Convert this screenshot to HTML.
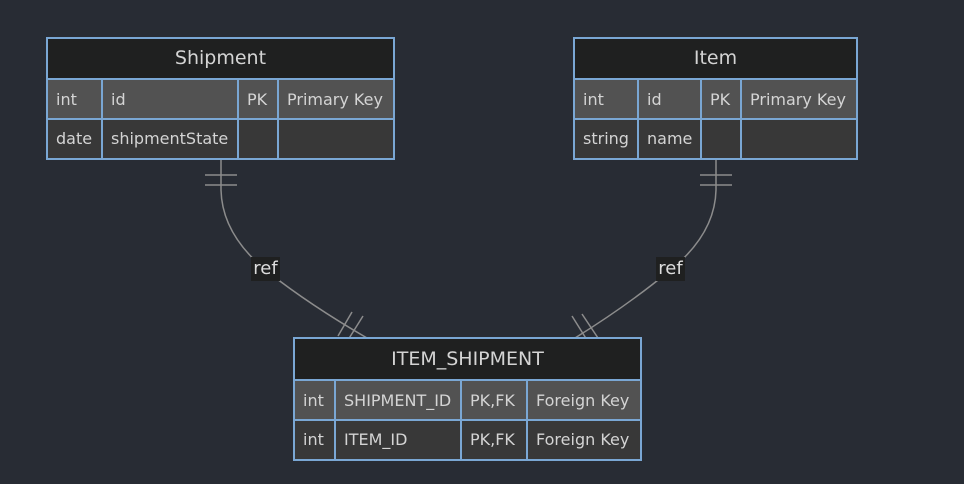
<!DOCTYPE html>
<html><head><style>
html,body{margin:0;padding:0;background:#282c34;}
svg{display:block;font-family:"DejaVu Sans","Liberation Sans",sans-serif;}
</style></head><body>
<svg width="964" height="484" viewBox="0 0 964 484">
<rect width="964" height="484" fill="#282c34"/>
<g fill="none" stroke="#8c8c8c" stroke-width="1.5">
<path d="M221,159 L221,190 Q222,235 268,272 Q310,305 367,338"/>
<path d="M205,175 H237 M205,185 H237"/>
<path d="M338,336 L352,312 M348,340 L363,316"/>
<path d="M716,159 L716,190 Q715,235 668,272 Q628,305 575,338"/>
<path d="M700,175 H732 M700,185 H732"/>
<path d="M598,338 L582,314 M587,340 L572,316"/>
</g>
<rect x="251" y="257" width="29" height="24" fill="#1f2020"/>
<text x="265.5" y="274" font-size="18" fill="#ddd" text-anchor="middle">ref</text>
<rect x="656" y="257" width="29" height="24" fill="#1f2020"/>
<text x="670.5" y="274" font-size="18" fill="#ddd" text-anchor="middle">ref</text>

<g stroke="#7aa7d4" stroke-width="2" font-size="16">
<!-- Shipment -->
<rect x="47" y="38" width="347" height="41" fill="#1f2020"/>
<rect x="47" y="79" width="347" height="40" fill="#525252"/>
<rect x="47" y="119" width="347" height="40" fill="#383838"/>
<path d="M102,79V159 M238,79V159 M278,79V159"/>
<!-- Item -->
<rect x="574" y="38" width="283" height="41" fill="#1f2020"/>
<rect x="574" y="79" width="283" height="40" fill="#525252"/>
<rect x="574" y="119" width="283" height="40" fill="#383838"/>
<path d="M638,79V159 M701,79V159 M741,79V159"/>
<!-- ITEM_SHIPMENT -->
<rect x="294" y="338" width="347" height="42" fill="#1f2020"/>
<rect x="294" y="380" width="347" height="40" fill="#525252"/>
<rect x="294" y="420" width="347" height="40" fill="#383838"/>
<path d="M335,380V460 M461,380V460 M527,380V460"/>
</g>
<g fill="#d4d4d4" font-size="16">
<text x="220.5" y="64" font-size="19" text-anchor="middle">Shipment</text>
<text x="56" y="105">int</text><text x="111" y="105">id</text><text x="247" y="105">PK</text><text x="287" y="105">Primary Key</text>
<text x="56" y="144">date</text><text x="111" y="144">shipmentState</text>
<text x="715.5" y="64" font-size="19" text-anchor="middle">Item</text>
<text x="583" y="105">int</text><text x="647" y="105">id</text><text x="710" y="105">PK</text><text x="750" y="105">Primary Key</text>
<text x="583" y="144">string</text><text x="647" y="144">name</text>
<text x="467.5" y="365" font-size="19" text-anchor="middle">ITEM_SHIPMENT</text>
<text x="303" y="406">int</text><text x="344" y="406">SHIPMENT_ID</text><text x="470" y="406">PK,FK</text><text x="536" y="406">Foreign Key</text>
<text x="303" y="445">int</text><text x="344" y="445">ITEM_ID</text><text x="470" y="445">PK,FK</text><text x="536" y="445">Foreign Key</text>
</g>
</svg>
</body></html>
